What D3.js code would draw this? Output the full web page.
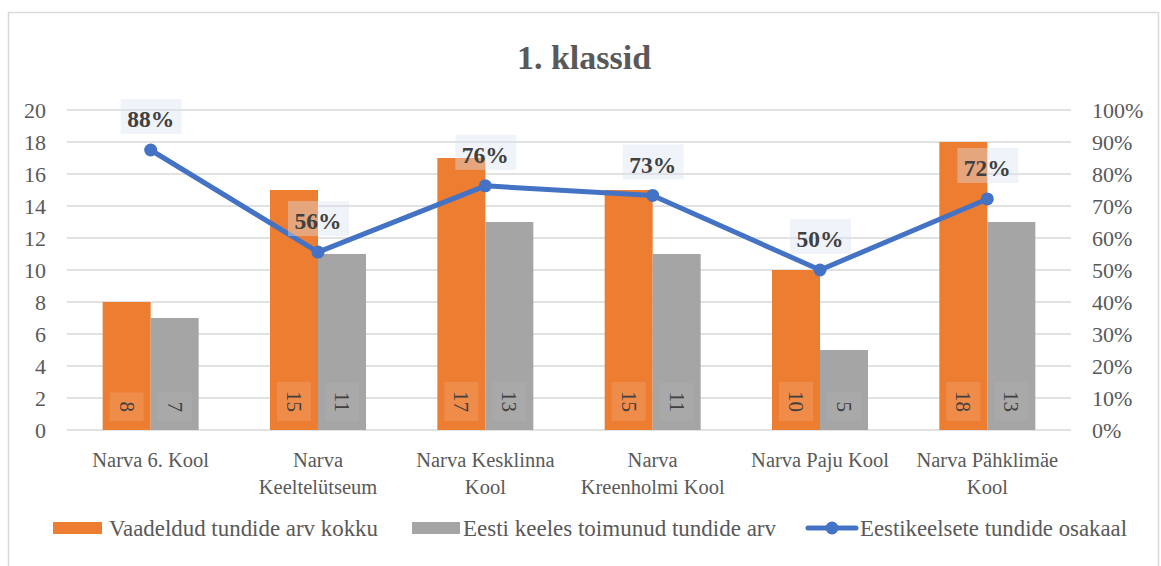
<!DOCTYPE html>
<html>
<head>
<meta charset="utf-8">
<script src="https://cdn.jsdelivr.net/npm/d3@7"></script>
<style>
  body { margin: 0; background: #fff; }
  svg text { font-family: "Liberation Serif", "Times New Roman", serif; }
</style>
</head>
<body>
<div class="chart"></div>
<script>
// data
const schools = ["Narva 6. Kool", "Narva Keeltelütseum", "Narva Kesklinna Kool",
  "Narva Kreenholmi Kool", "Narva Paju Kool", "Narva Pähklimäe Kool"];
const schoolLines = [["Narva 6. Kool"], ["Narva", "Keeltelütseum"], ["Narva Kesklinna", "Kool"],
  ["Narva", "Kreenholmi Kool"], ["Narva Paju Kool"], ["Narva Pähklimäe", "Kool"]];
const totalLessons = [8, 15, 17, 15, 10, 18];
const estonianLessons = [7, 11, 13, 11, 5, 13];
const estonianShare = [0.875, 0.556, 0.763, 0.733, 0.50, 0.722];
const leftTicks = [0, 2, 4, 6, 8, 10, 12, 14, 16, 18, 20];
const rightTicks = [0, 0.1, 0.2, 0.3, 0.4, 0.5, 0.6, 0.7, 0.8, 0.9, 1.0];
const seriesNames = ["Vaadeldud tundide arv kokku", "Eesti keeles toimunud tundide arv", "Eestikeelsete tundide osakaal"];

const W = 1161, H = 566;
const margin = {top: 110, left: 67, bottom: 136, right: 90};
const width = W - margin.left - margin.right;
const height = H - margin.top - margin.bottom;
const orange = "#ED7D31", gray = "#A5A5A5", blue = "#4472C4", txt = "#595959";

const root = d3.select(".chart").append("svg").attr("width", W).attr("height", H);

// chart border
root.append("rect").attr("x", 8.5).attr("y", 12.5).attr("width", 1150).attr("height", 560)
  .attr("fill", "#fff").attr("stroke", "#d9d9d9").attr("stroke-width", 1.5);

root.append("text").attr("x", 584).attr("y", 69).attr("text-anchor", "middle")
  .attr("font-size", 34).attr("font-weight", "bold").attr("fill", txt).text("1. klassid");

const svg = root.append("g").attr("transform", `translate(${margin.left},${margin.top})`);

const xScale = d3.scaleBand().domain(schools).range([0, width]);
const yScale = d3.scaleLinear().domain([0, 20]).range([height, 0]);
const pScale = d3.scaleLinear().domain([0, 1]).range([height, 0]);
const barW = 48;

// gridlines
svg.append("g").selectAll("line").data(leftTicks).join("line")
  .attr("x1", 0).attr("x2", width)
  .attr("y1", d => yScale(d)).attr("y2", d => yScale(d))
  .attr("stroke", "#d9d9d9").attr("stroke-width", 1.5);

// axes
const yAxis = d3.axisLeft(yScale).tickValues(leftTicks).tickSize(0).tickPadding(21);
svg.append("g").call(yAxis).call(g => g.select(".domain").remove())
  .selectAll("text").attr("font-size", 22).attr("fill", txt);

const pAxis = d3.axisRight(pScale).tickValues(rightTicks).tickSize(0).tickPadding(21)
  .tickFormat(d3.format(".0%"));
svg.append("g").attr("transform", `translate(${width},0)`).call(pAxis)
  .call(g => g.select(".domain").remove())
  .selectAll("text").attr("font-size", 22).attr("fill", txt);

// category labels
const xl = svg.append("g").selectAll("text").data(schools).join("text")
  .attr("text-anchor", "middle").attr("font-size", 20.5).attr("fill", txt)
  .attr("transform", d => `translate(${xScale(d) + xScale.bandwidth() / 2},${height + 37})`);
xl.each(function(d, i) {
  d3.select(this).selectAll("tspan").data(schoolLines[i]).join("tspan")
    .attr("x", 0).attr("dy", (l, j) => j === 0 ? 0 : 27).text(l => l);
});

// bars
function drawBars(values, color, offset, boxFill) {
  const g = svg.append("g");
  g.selectAll("rect").data(values).join("rect")
    .attr("x", (d, i) => xScale(schools[i]) + xScale.bandwidth() / 2 + offset)
    .attr("y", d => yScale(d))
    .attr("width", barW)
    .attr("height", d => height - yScale(d))
    .attr("fill", color);
  const lab = g.selectAll("g.lab").data(values).join("g").attr("class", "lab")
    .attr("transform", (d, i) =>
      `translate(${xScale(schools[i]) + xScale.bandwidth() / 2 + offset + barW / 2},${height - 18}) rotate(90)`);
  lab.append("text").attr("text-anchor", "end").attr("dy", "0.33em")
    .attr("font-size", 21).attr("fill", "#404040").text(d => d);
  lab.each(function() {
    const t = d3.select(this).select("text");
    const b = t.node().getBBox();
    d3.select(this).insert("rect", "text")
      .attr("x", b.x - 9).attr("y", -17).attr("width", b.width + 18).attr("height", 34)
      .attr("fill", boxFill);
  });
}
drawBars(totalLessons, orange, -barW, "rgba(255,255,255,0.12)");
drawBars(estonianLessons, gray, 0, "rgba(255,255,255,0.05)");

// line
const cx = i => xScale(schools[i]) + xScale.bandwidth() / 2;
const line = d3.line().x((d, i) => cx(i)).y(d => pScale(d));
svg.append("path").datum(estonianShare).attr("d", line)
  .attr("fill", "none").attr("stroke", blue).attr("stroke-width", 5).attr("stroke-linejoin", "round");
svg.append("g").selectAll("circle").data(estonianShare).join("circle")
  .attr("cx", (d, i) => cx(i)).attr("cy", d => pScale(d)).attr("r", 6.5).attr("fill", blue);

// percent labels
const pl = svg.append("g").selectAll("g").data(estonianShare).join("g")
  .attr("transform", (d, i) => `translate(${cx(i)},${pScale(d) - 31})`);
pl.append("rect").attr("x", -30).attr("y", -20).attr("width", 61).attr("height", 35)
  .attr("fill", "rgba(218,227,243,0.4)");
pl.append("text").attr("text-anchor", "middle").attr("dy", "0.35em")
  .attr("font-size", 23.5).attr("font-weight", "bold").attr("fill", "#404040")
  .text(d => Math.round(d * 100) + "%");

// legend
const lg = root.append("g").attr("transform", "translate(0,528)");
lg.append("rect").attr("x", 53).attr("y", -6).attr("width", 49).attr("height", 12).attr("fill", orange);
lg.append("text").attr("x", 109).attr("dy", "0.33em").attr("font-size", 23).attr("fill", txt)
  .attr("textLength", 269).attr("lengthAdjust", "spacingAndGlyphs").text(seriesNames[0]);
lg.append("rect").attr("x", 412).attr("y", -6).attr("width", 48).attr("height", 12).attr("fill", gray);
lg.append("text").attr("x", 463).attr("dy", "0.33em").attr("font-size", 23).attr("fill", txt)
  .attr("textLength", 313).attr("lengthAdjust", "spacingAndGlyphs").text(seriesNames[1]);
lg.append("line").attr("x1", 808).attr("x2", 856).attr("stroke", blue).attr("stroke-width", 5).attr("stroke-linecap", "round");
lg.append("circle").attr("cx", 832).attr("r", 6.5).attr("fill", blue);
lg.append("text").attr("x", 860).attr("dy", "0.33em").attr("font-size", 23).attr("fill", txt)
  .attr("textLength", 267).attr("lengthAdjust", "spacingAndGlyphs").text(seriesNames[2]);
</script>
</body>
</html>
